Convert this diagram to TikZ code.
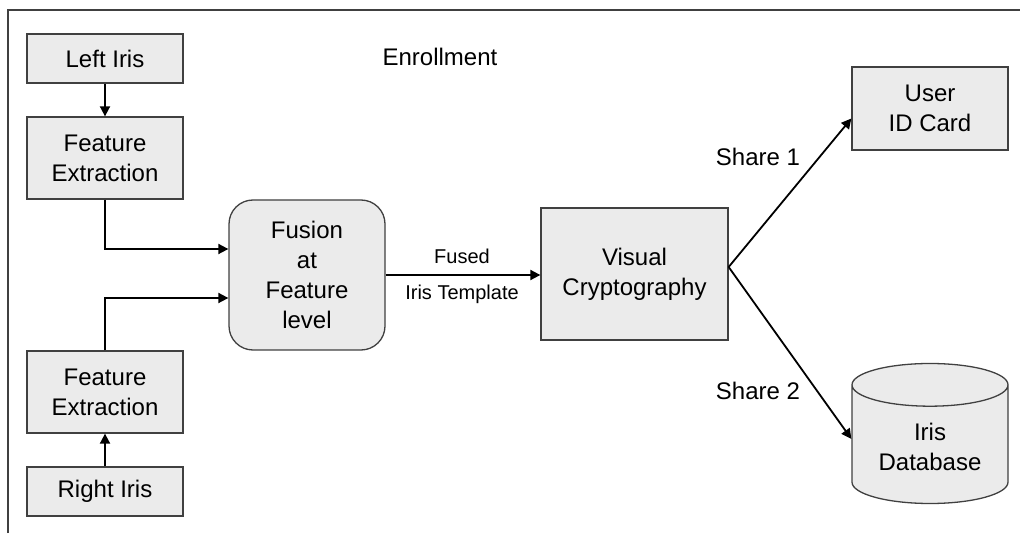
\documentclass[tikz,border=0pt]{standalone}
\usepackage{fontspec}
\setmainfont{Liberation Sans}
\usetikzlibrary{shapes.geometric,arrows.meta}

\begin{document}
\begin{tikzpicture}[x=1pt,y=1pt,
		blk/.style={draw=black!75, fill=black!8, line width=1.3pt, minimum width=156pt, inner sep=2pt, align=center, font=\fontsize{24}{30}\selectfont},
		arr/.style={line width=1.8pt, -{Triangle[length=10pt,width=10pt]}},
		lbl/.style={font=\fontsize{24}{30}\selectfont},
		small/.style={font=\fontsize{20}{24}\selectfont}]
		\useasboundingbox (0,0) rectangle (1020,533);
		\draw[line width=1.3pt, black!75] (8,0) -- (8,523) -- (1020,523);
		\node[blk, minimum height=49pt] (leftiris) at (105,474.5) {Left Iris};
		\node[blk, minimum height=82pt] (featA) at (105,375) {Feature\\Extraction};
		\node[blk, minimum height=82pt] (featB) at (105,141) {Feature\\Extraction};
		\node[blk, minimum height=49pt] (rightiris) at (105,41.5) {Right Iris};
		\node[blk, minimum height=150pt, rounded corners=24pt] (fusion) at (307,258) {Fusion\\at\\Feature\\level};
		\node[blk, minimum width=187pt, minimum height=132pt] (visual) at (634.5,259) {Visual\\Cryptography};
		\node[blk, minimum height=83pt] (card) at (930,424.5) {User\\ID Card};
		\node[blk, cylinder, shape border rotate=90, aspect=0.4, minimum height=140pt, anchor=shape center] (irisdb) at (930,99.5) {Iris\\Database};
		\node[lbl] (enroll) at (440,476) {Enrollment};
		\node[lbl] (share1) at (758,376) {Share 1};
		\node[lbl] (share2) at (758,142) {Share 2};
		\node[small] (fused) at (462,277) {Fused};
		\node[small] (tmpl) at (462,239) {Iris Template};
		\coordinate (split) at ([yshift=7pt]visual.east);
		\draw[arr] (leftiris) -- (featA);
		\draw[arr] (rightiris) -- (featB);
		\draw[arr] (featA.south) |- ([yshift=26pt]fusion.west);
		\draw[arr] (featB.north) |- ([yshift=-23pt]fusion.west);
		\draw[arr] (fusion.east) -- (visual.west |- fusion.east);
		\draw[arr] (split) -- ([yshift=-10pt]card.west);
		\draw[arr] (split) -- ([yshift=8pt]irisdb.west);
\end{tikzpicture}
\end{document}
